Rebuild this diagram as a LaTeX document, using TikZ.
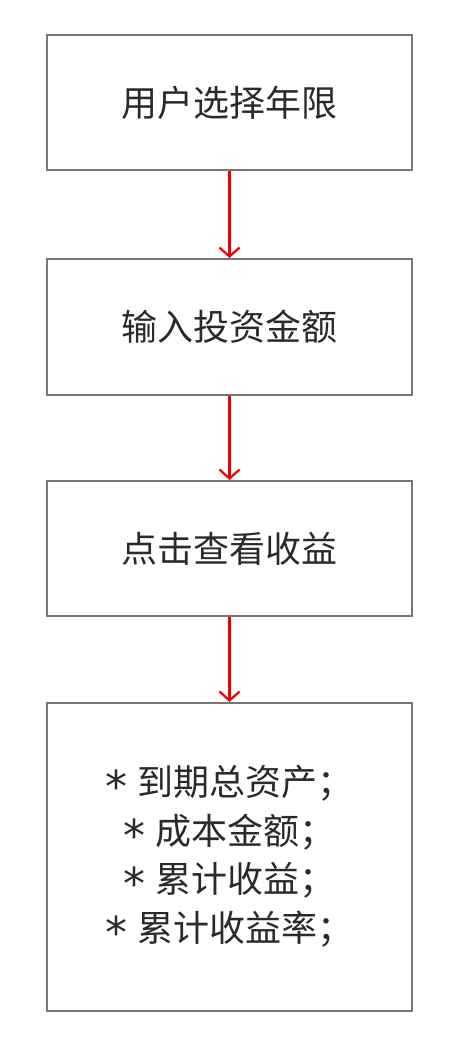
\documentclass[tikz,border=0pt]{standalone}
\usepackage{fontspec}
\setmainfont{Noto Sans CJK SC}
\newfontfamily\dejavufont{DejaVu Sans}
\newcommand\flowstar{\raisebox{-7pt}{\fontsize{44}{44}\dejavufont *}\hspace{10pt}}
\usetikzlibrary{arrows.meta}
\definecolor{boxgray}{HTML}{777777}
\definecolor{txtgray}{HTML}{2A2A2A}
\definecolor{arrred}{HTML}{EE0000}
\tikzset{
  flowbox/.style={draw=boxgray, line width=2pt, rectangle, minimum width=365pt,
    text=txtgray, font=\fontsize{36}{48.5}\selectfont, align=center, inner sep=0pt},
  flowarrow/.style={draw=arrred, line width=2.2pt, -{Straight Barb[length=9pt,width=20pt,line width=2.2pt]}}
}
\begin{document}
\begin{tikzpicture}[x=1pt,y=-1pt]
\useasboundingbox (0,0) rectangle (448,1038);
\node[flowbox, minimum height=135pt] (b1) at (229.5,102.5) {用户选择年限};
\node[flowbox, minimum height=136pt] (b2) at (229.5,327) {输入投资金额};
\node[flowbox, minimum height=135pt] (b3) at (229.5,548.5) {点击查看收益};
\node[flowbox, minimum height=308pt] (b4) at (229.5,857) {\flowstar 到期总资产；\\\flowstar 成本金额；\\\flowstar 累计收益；\\\flowstar 累计收益率；};
\draw[flowarrow] (b1.south) -- (b2.north);
\draw[flowarrow] (b2.south) -- (b3.north);
\draw[flowarrow] (b3.south) -- (b4.north);
\end{tikzpicture}
\end{document}
